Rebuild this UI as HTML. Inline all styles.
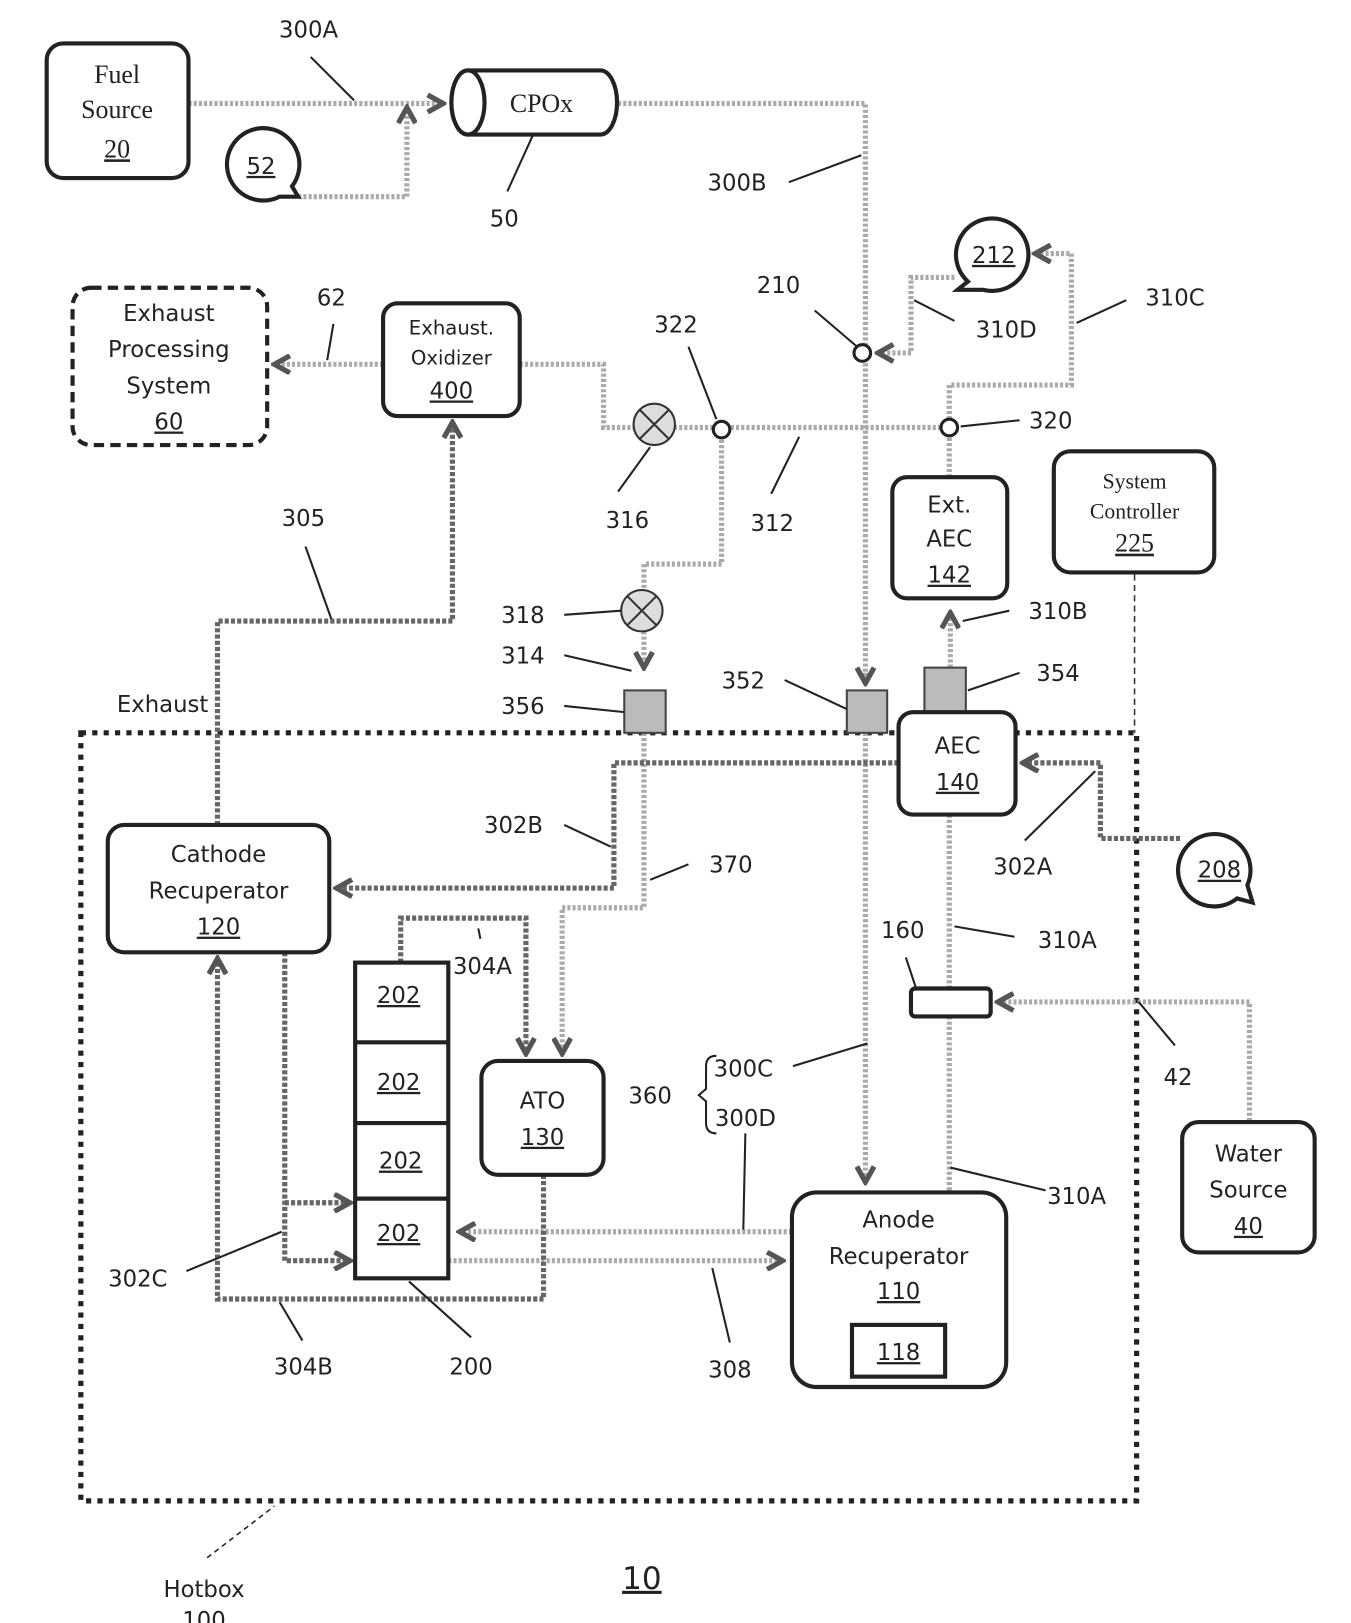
<!DOCTYPE html>
<html><head><meta charset="utf-8"><style>
html,body{margin:0;padding:0;background:#fff;}
svg{display:block}
text{font-family:"DejaVu Sans","Liberation Sans",sans-serif;font-size:22px;fill:#222;text-anchor:middle}
.serif{font-family:"Liberation Serif",serif;font-size:25px}
.box{fill:#fff;stroke:#222;stroke-width:4}
.lt{fill:none;stroke:#aaa;stroke-width:5;stroke-dasharray:3 2}
.dk{fill:none;stroke:#666;stroke-width:5;stroke-dasharray:4 2}
.ld{stroke:#222;stroke-width:2;fill:none}
</style></head><body>
<svg width="1351" height="1623" viewBox="0 0 1305 1568" xmlns="http://www.w3.org/2000/svg">
<defs>
<marker id="a" viewBox="0 0 12 12" refX="10" refY="6" markerWidth="4" markerHeight="4" orient="auto"><path d="M1 1 L10 6 L1 11" fill="none" stroke="#555" stroke-width="3"/></marker>
</defs>
<rect x="78" y="708" width="1020" height="742" fill="none" stroke="#222" stroke-width="5" stroke-dasharray="5 6"/>
<path class="lt" d="M182 100 H428" marker-end="url(#a)"/>
<path class="lt" d="M288 190 H393 V104" marker-end="url(#a)"/>
<path class="lt" d="M597 100 H836 V660"/>
<path class="lt" d="M836 650 V660" marker-end="url(#a)"/>
<path class="lt" d="M836 708 V1142" marker-end="url(#a)"/>
<path class="lt" d="M370 352 H265" marker-end="url(#a)"/>
<path class="lt" d="M502 352 H583 V413 H916"/>
<path class="lt" d="M697 415 V545 H622 V645" marker-end="url(#a)"/>
<path class="lt" d="M622 708 V877 H543 V1018" marker-end="url(#a)"/>
<path class="lt" d="M917 405 V372 H1035 V245 H1000" marker-end="url(#a)"/>
<path class="lt" d="M922 268 H880 V341 H848" marker-end="url(#a)"/>
<path class="lt" d="M917 413 V460"/>
<path class="lt" d="M918 645 V592" marker-end="url(#a)"/>
<path class="lt" d="M917 787 V1150"/>
<path class="lt" d="M1207 1083 V968 H964" marker-end="url(#a)"/>
<path class="lt" d="M765 1190 H444" marker-end="url(#a)"/>
<path class="lt" d="M433 1218 H756" marker-end="url(#a)"/>
<path class="dk" d="M210 797 V600 H437 V408" marker-end="url(#a)"/>
<path class="dk" d="M868 737 H593 V858 H325" marker-end="url(#a)"/>
<path class="dk" d="M1140 810 H1063 V737 H988" marker-end="url(#a)"/>
<path class="dk" d="M275 920 V1218 H338" marker-end="url(#a)"/>
<path class="dk" d="M275 1162 H338" marker-end="url(#a)"/>
<path class="dk" d="M525 1135 V1255 H210 V926" marker-end="url(#a)"/>
<path class="dk" d="M387 930 V887 H508 V1018" marker-end="url(#a)"/>
<path d="M1096 555 V708" stroke="#333" stroke-width="1.5" stroke-dasharray="6 4"/>
<rect class="box" x="45" y="42" width="137" height="130" rx="16"/>
<text class="serif" x="113" y="80">Fuel</text><text class="serif" x="113" y="114">Source</text><text class="serif" x="113" y="152" text-decoration="underline">20</text>
<path class="box" d="M282 180 A35 35 0 1 0 270 190 L288 190 Z"/>
<text x="252" y="168" text-decoration="underline">52</text>
<path class="box" d="M452 68 H580 A16 31 0 0 1 580 130 H452 A16 31 0 0 1 452 68 Z"/>
<ellipse class="box" cx="452" cy="99" rx="16" ry="31"/>
<text class="serif" x="523" y="108">CPOx</text>
<rect x="70" y="278" width="188" height="152" rx="18" fill="#fff" stroke="#222" stroke-width="4" stroke-dasharray="10 6"/>
<text x="163" y="310">Exhaust</text><text x="163" y="345">Processing</text><text x="163" y="380">System</text><text x="163" y="415" text-decoration="underline">60</text>
<rect class="box" x="370" y="293" width="132" height="109" rx="14"/>
<text x="436" y="323" style="font-size:19px">Exhaust.</text><text x="436" y="352" style="font-size:19px">Oxidizer</text><text x="436" y="385" text-decoration="underline">400</text>
<circle cx="632" cy="410" r="20" fill="#ddd" stroke="#333" stroke-width="2"/><path d="M618 396 L646 424 M646 396 L618 424" stroke="#333" stroke-width="2"/>
<circle cx="620" cy="590" r="20" fill="#ddd" stroke="#333" stroke-width="2"/><path d="M606 576 L634 604 M634 576 L606 604" stroke="#333" stroke-width="2"/>
<circle cx="697" cy="415" r="8" fill="#fff" stroke="#222" stroke-width="3"/>
<circle cx="917" cy="413" r="8" fill="#fff" stroke="#222" stroke-width="3"/>
<circle cx="833" cy="341" r="8" fill="#fff" stroke="#222" stroke-width="3"/>
<path class="box" d="M935 272 A35 35 0 1 1 950 280 L925 280 Z"/>
<text x="960" y="254" text-decoration="underline">212</text>
<rect class="box" x="862" y="461" width="111" height="117" rx="14"/>
<text x="917" y="495">Ext.</text><text x="917" y="528">AEC</text><text x="917" y="563" text-decoration="underline">142</text>
<rect class="box" x="1018" y="436" width="155" height="117" rx="16"/>
<text class="serif" x="1096" y="472" style="font-size:21px">System</text><text class="serif" x="1096" y="501" style="font-size:21px">Controller</text><text class="serif" x="1096" y="533" text-decoration="underline">225</text>
<rect x="603" y="667" width="40" height="41" fill="#bbb" stroke="#444" stroke-width="2"/>
<rect x="818" y="667" width="39" height="41" fill="#bbb" stroke="#444" stroke-width="2"/>
<rect x="893" y="645" width="40" height="43" fill="#bbb" stroke="#444" stroke-width="2"/>
<rect class="box" x="868" y="688" width="113" height="99" rx="14"/>
<text x="925" y="728">AEC</text><text x="925" y="763" text-decoration="underline">140</text>
<path class="box" d="M1205 855 A35 35 0 1 0 1195 868 L1210 872 Z"/>
<text x="1178" y="848" text-decoration="underline">208</text>
<rect class="box" x="104" y="797" width="214" height="123" rx="16"/>
<text x="211" y="833">Cathode</text><text x="211" y="868">Recuperator</text><text x="211" y="903" text-decoration="underline">120</text>
<rect class="box" x="880" y="955" width="77" height="27" rx="4"/>
<rect class="box" x="1142" y="1084" width="128" height="126" rx="16"/>
<text x="1206" y="1122">Water</text><text x="1206" y="1157">Source</text><text x="1206" y="1192" text-decoration="underline">40</text>
<rect x="343" y="930" width="90" height="305" fill="#fff" stroke="#222" stroke-width="4"/>
<path d="M343 1007 H433 M343 1085 H433 M343 1158 H433" stroke="#222" stroke-width="4"/>
<text x="385" y="969" text-decoration="underline">202</text><text x="385" y="1053" text-decoration="underline">202</text><text x="387" y="1129" text-decoration="underline">202</text><text x="385" y="1199" text-decoration="underline">202</text>
<rect class="box" x="465" y="1025" width="118" height="110" rx="16"/>
<text x="524" y="1071">ATO</text><text x="524" y="1106" text-decoration="underline">130</text>
<rect class="box" x="765" y="1152" width="207" height="188" rx="24"/>
<text x="868" y="1186">Anode</text><text x="868" y="1221">Recuperator</text><text x="868" y="1255" text-decoration="underline">110</text>
<rect class="box" x="823" y="1280" width="90" height="50"/>
<text x="868" y="1314" text-decoration="underline">118</text>
<path class="ld" d="M300 55 L342 97 M490 185 L515 130 M762 176 L832 150 M322 313 L316 348 M597 475 L628 432 M745 477 L772 422 M665 335 L692 405 M985 406 L928 412 M787 300 L828 335 M922 310 L883 290 M1088 290 L1040 312 M295 528 L320 598 M545 594 L600 590 M545 633 L610 648 M545 682 L603 688 M758 657 L818 685 M985 650 L935 667 M975 590 L930 600 M545 797 L590 818 M665 835 L628 850 M980 905 L922 895 M875 925 L885 955 M1135 1010 L1100 968 M766 1030 L838 1008 M720 1095 L718 1188 M1010 1150 L918 1128 M705 1297 L688 1225 M455 1292 L395 1238 M292 1295 L270 1258 M180 1228 L272 1190 M462 897 L464 907 M990 812 L1058 745"/>
<path d="M200 1505 L265 1455" stroke="#222" stroke-width="1.5" stroke-dasharray="5 4"/>
<path class="ld" d="M692 1020 Q682 1020 682 1030 V1052 L675 1058 L682 1064 V1085 Q682 1095 692 1095"/>
<text x="298" y="36">300A</text><text x="487" y="219">50</text><text x="712" y="184">300B</text>
<text x="320" y="295">62</text><text x="606" y="510">316</text><text x="746" y="513">312</text><text x="653" y="321">322</text>
<text x="1015" y="414">320</text><text x="752" y="283">210</text><text x="972" y="326">310D</text><text x="1135" y="295">310C</text>
<text x="293" y="508">305</text><text x="505" y="602">318</text><text x="505" y="641">314</text><text x="505" y="690">356</text>
<text x="157" y="688">Exhaust</text><text x="718" y="665">352</text><text x="1022" y="658">354</text><text x="1022" y="598">310B</text>
<text x="496" y="805">302B</text><text x="706" y="843">370</text><text x="988" y="845">302A</text>
<text x="1031" y="916">310A</text><text x="872" y="906">160</text><text x="1138" y="1048">42</text>
<text x="466" y="941">304A</text><text x="628" y="1066">360</text><text x="718" y="1040">300C</text><text x="720" y="1088">300D</text>
<text x="1040" y="1163">310A</text><text x="705" y="1331">308</text><text x="455" y="1328">200</text><text x="293" y="1328">304B</text>
<text x="133" y="1243">302C</text><text x="197" y="1543">Hotbox</text><text x="197" y="1573">100</text>
<text x="620" y="1535" style="font-size:30px" text-decoration="underline">10</text>
</svg>
</body></html>
